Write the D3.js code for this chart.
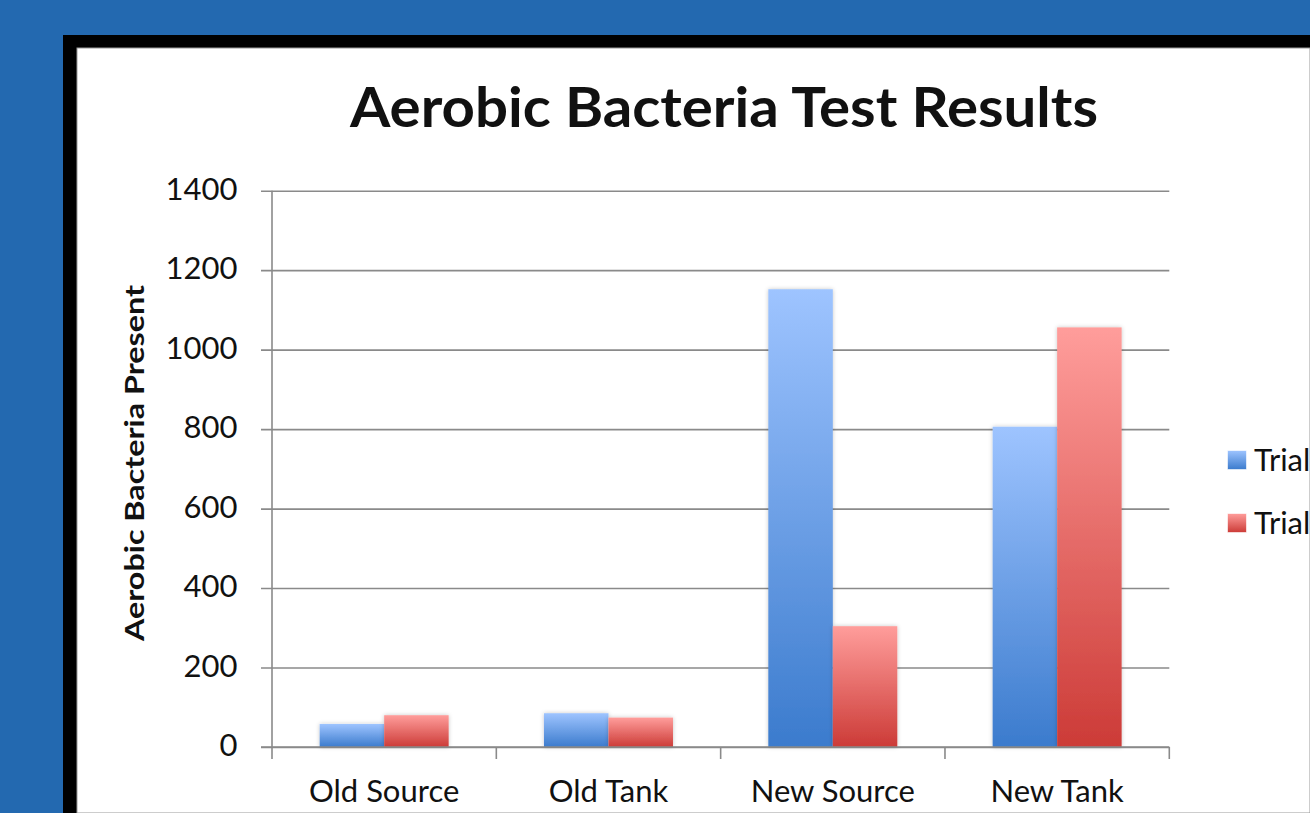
<!DOCTYPE html>
<html>
<head>
<meta charset="utf-8">
<script src="https://cdn.jsdelivr.net/npm/d3@7"></script>
<style>
  html, body { margin: 0; padding: 0; overflow: hidden; background: #2369b0; }
  svg { display: block; }
  text { font-family: Lato, "Open Sans", sans-serif; fill: #111; }
</style>
</head>
<body>
<svg id="chart" width="1310" height="813"></svg>
<script>
// Aerobic bacteria counts per sampling site, two trials
const categories = ["Old Source", "Old Tank", "New Source", "New Tank"];
const seriesNames = ["Trial 1", "Trial 2"];
const trial1 = [58, 85, 1152, 806];
const trial2 = [80, 74, 304, 1056];
const yTicks = [0, 200, 400, 600, 800, 1000, 1200, 1400];
const titleText = "Aerobic Bacteria Test Results";
const yAxisTitle = "Aerobic Bacteria Present";

const rows = categories.map((c, i) => ({ category: c, values: [trial1[i], trial2[i]] }));

const W = 1310, H = 813;
const svg = d3.select("#chart");

// slide frame: black border with white panel
svg.append("rect").attr("x", 0).attr("y", 0).attr("width", W).attr("height", H).attr("fill", "#2369b0");
svg.append("rect").attr("x", 63).attr("y", 35).attr("width", W - 63).attr("height", H - 35).attr("fill", "#000");
svg.append("rect").attr("x", 77).attr("y", 48).attr("width", W - 77).attr("height", H - 48)
  .attr("fill", "#fff").attr("stroke", "#9a9a9a").attr("stroke-width", 1);

const defs = svg.append("defs");
const gradStops = [
  ["#9ec4ff", "#3b7bcd"],
  ["#ff9d9b", "#cc3b37"]
];
gradStops.forEach((s, i) => {
  const g = defs.append("linearGradient").attr("id", "grad" + i)
    .attr("x1", 0).attr("y1", 0).attr("x2", 0).attr("y2", 1);
  g.append("stop").attr("offset", "0%").attr("stop-color", s[0]);
  g.append("stop").attr("offset", "100%").attr("stop-color", s[1]);
});
const shadow = defs.append("filter").attr("id", "barShadow")
  .attr("x", "-20%").attr("y", "-20%").attr("width", "140%").attr("height", "140%");
shadow.append("feDropShadow").attr("dx", 0).attr("dy", 0).attr("stdDeviation", 2.2)
  .attr("flood-color", "#000").attr("flood-opacity", 0.22);

const plot = { left: 272, right: 1169.3, top: 190.7, bottom: 747 };

const x0 = d3.scaleBand().domain(categories).range([plot.left, plot.right])
  .paddingInner(0.425).paddingOuter(0.2125);
const x1 = d3.scaleBand().domain([0, 1]).range([0, x0.bandwidth()]);
const y = d3.scaleLinear().domain([0, 1400]).range([plot.bottom, plot.top]);
const step = x0.step();

const axisColor = "#8a8a8a";

// horizontal gridlines with left tick marks
const yAxis = d3.axisLeft(y).tickValues(yTicks).tickSize(-(plot.right - plot.left)).tickSizeOuter(0).tickFormat("");
const gy = svg.append("g").attr("transform", `translate(${plot.left},0)`).call(yAxis);
gy.select(".domain").remove();
gy.selectAll(".tick line").attr("stroke", axisColor).attr("stroke-width", 1.6).attr("x1", -11);

// y tick labels
svg.append("g").selectAll("text").data(yTicks).join("text")
  .attr("x", 237.5).attr("y", d => y(d) + 9)
  .attr("text-anchor", "end").attr("font-size", 31).text(d => d);

// vertical axis line, extends down to the category tick length
svg.append("line").attr("x1", plot.left).attr("x2", plot.left)
  .attr("y1", plot.top).attr("y2", plot.bottom + 12)
  .attr("stroke", axisColor).attr("stroke-width", 1.6);

// category boundary ticks on the x axis
const boundaries = categories.map((c, i) => x0(c) - x0.paddingOuter() * step).concat([plot.right]);
svg.append("g").selectAll("line").data(boundaries.slice(1)).join("line")
  .attr("x1", d => d).attr("x2", d => d)
  .attr("y1", plot.bottom).attr("y2", plot.bottom + 12)
  .attr("stroke", axisColor).attr("stroke-width", 1.6);

// bars
const groups = svg.append("g").selectAll("g").data(rows).join("g")
  .attr("transform", d => `translate(${x0(d.category)},0)`);
groups.selectAll("rect").data(d => d.values.map((v, i) => ({ v, i }))).join("rect")
  .attr("x", d => x1(d.i)).attr("width", x1.bandwidth())
  .attr("y", d => y(d.v)).attr("height", d => y(0) - y(d.v))
  .attr("fill", d => `url(#grad${d.i})`)
  .attr("filter", "url(#barShadow)");

// redraw the baseline over the bar shadows
svg.append("line").attr("x1", plot.left - 11).attr("x2", plot.right)
  .attr("y1", y(0)).attr("y2", y(0)).attr("stroke", axisColor).attr("stroke-width", 1.6);

// category labels
svg.append("g").selectAll("text").data(categories).join("text")
  .attr("x", d => x0(d) + x0.bandwidth() / 2).attr("y", 802)
  .attr("text-anchor", "middle").attr("font-size", 31).text(d => d);

// title
svg.append("text").attr("x", 724).attr("y", 126.7)
  .attr("text-anchor", "middle").attr("font-size", 55).attr("font-weight", "bold")
  .attr("textLength", 748).attr("lengthAdjust", "spacingAndGlyphs")
  .text(titleText);

// y axis title
svg.append("text").attr("transform", "translate(144,463) rotate(-90)")
  .attr("text-anchor", "middle").attr("font-size", 26).attr("font-weight", "bold")
  .attr("textLength", 356).attr("lengthAdjust", "spacingAndGlyphs")
  .text(yAxisTitle);

// legend
const legend = svg.append("g").selectAll("g").data(seriesNames).join("g")
  .attr("transform", (d, i) => `translate(1227.5,${450.5 + i * 63})`);
legend.append("rect").attr("width", 19).attr("height", 19)
  .attr("fill", (d, i) => `url(#grad${i})`)
  .attr("stroke", "#ffffff").attr("stroke-opacity", 0.6).attr("stroke-width", 1);
legend.append("text").attr("x", 26.5).attr("y", 20).attr("font-size", 31).text(d => d);
</script>
</body>
</html>
